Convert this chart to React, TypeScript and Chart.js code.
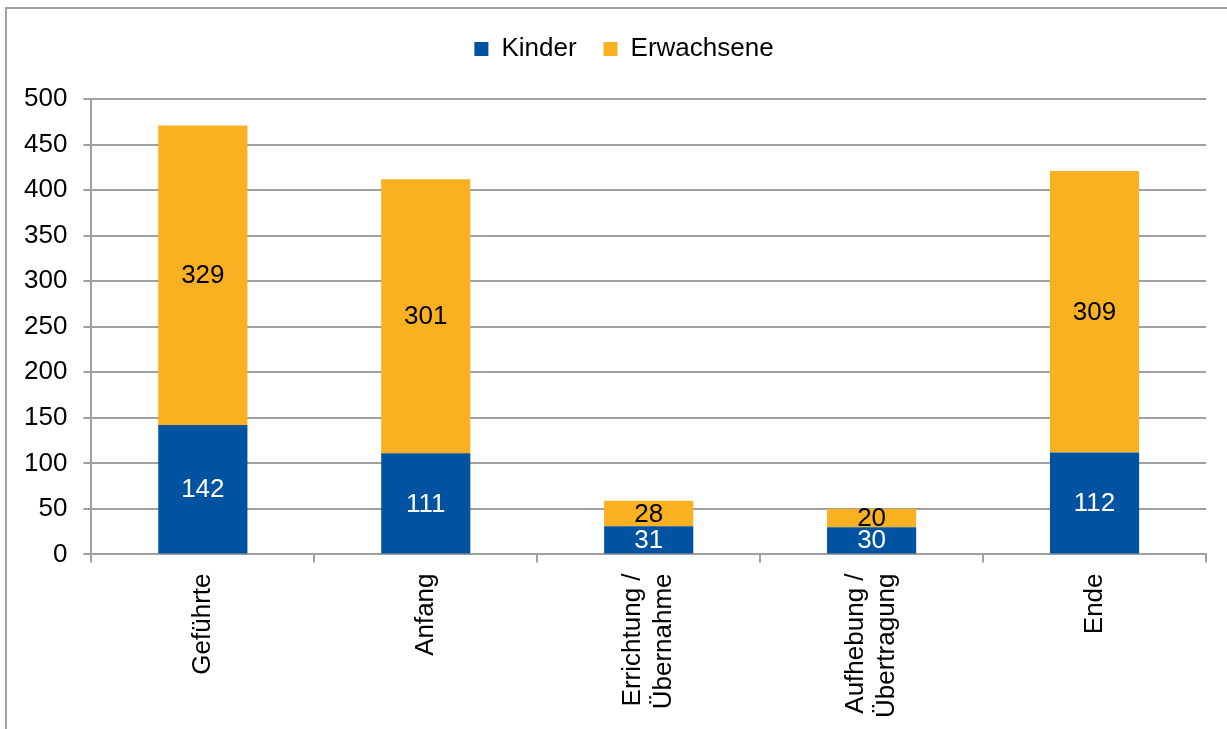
import React, { useEffect, useRef } from "react";
import { Chart, registerables } from "chart.js";

Chart.register(...registerables);

const categories: (string | string[])[] = [
  "Geführte",
  "Anfang",
  ["Errichtung /", "Übernahme"],
  ["Aufhebung /", "Übertragung"],
  "Ende",
];
const kinder = [142, 111, 31, 30, 112];
const erwachsene = [329, 301, 28, 20, 309];
const seriesNames = ["Kinder", "Erwachsene"];
const yMin = 0;
const yMax = 500;
const yStep = 50;

const BLUE = "#0053a0";
const ORANGE = "#f9b122";
const GRID = "#a0a0a0";
const FONT = "'Liberation Sans', Arial, sans-serif";
const FS = 26;

const valueLabels = {
  id: "valueLabels",
  afterDatasetsDraw(chart: any) {
    const ctx = chart.ctx;
    ctx.save();
    ctx.font = `${FS}px ${FONT}`;
    ctx.textAlign = "center";
    ctx.textBaseline = "middle";
    chart.data.datasets.forEach((ds: any, i: number) => {
      const meta = chart.getDatasetMeta(i);
      meta.data.forEach((bar: any, j: number) => {
        const { x, y, base } = bar.getProps(["x", "y", "base"], true);
        ctx.fillStyle = i === 0 ? "#ffffff" : "#000000";
        ctx.fillText(String(ds.data[j]), x, (y + base) / 2 + 1);
      });
    });
    ctx.restore();
  },
};

const legendSpacer = {
  id: "legendSpacer",
  beforeLayout(chart: any) {
    const lg = chart.legend;
    if (lg && !lg._spacerPatched) {
      const orig = lg.fit;
      lg.fit = function () {
        orig.call(this);
        this.height += 27;
      };
      lg._spacerPatched = true;
    }
  },
  afterLayout(chart: any) {
    const lg = chart.legend;
    if (lg) {
      lg.left += 17;
      lg.right += 17;
    }
  },
  beforeDraw(chart: any) {
    const s = chart.scales.x;
    if (!s) return;
    const items = s.getLabelItems(chart.chartArea);
    items.forEach((it: any) => {
      if (Array.isArray(it.label) && !it._centered) {
        const lh = it.font.lineHeight;
        it.options.translation[0] -= ((it.label.length - 1) * lh) / 2;
        it._centered = true;
      }
    });
  },
};

export default function App() {
  const ref = useRef<HTMLCanvasElement>(null);
  useEffect(() => {
    if (!ref.current) return;
    const chart = new Chart(ref.current, {
      type: "bar",
      data: {
        labels: categories as any,
        datasets: [
          { label: seriesNames[0], data: kinder, backgroundColor: BLUE, borderWidth: 0 },
          { label: seriesNames[1], data: erwachsene, backgroundColor: ORANGE, borderWidth: 0 },
        ],
      },
      options: {
        animation: false,
        responsive: false,
        maintainAspectRatio: false,
        layout: { padding: { top: 9, left: 8, right: 21, bottom: 0 } },
        datasets: { bar: { categoryPercentage: 0.4, barPercentage: 1 } } as any,
        plugins: {
          legend: {
            position: "top",
            labels: {
              boxWidth: 14,
              boxHeight: 14,
              padding: 27,
              color: "#000",
              font: { size: FS, family: FONT },
            },
          },
          tooltip: { enabled: false },
        },
        scales: {
          x: {
            stacked: true,
            offset: true,
            border: { display: true, color: GRID, width: 2 },
            grid: {
              display: true,
              offset: true,
              drawOnChartArea: false,
              drawTicks: true,
              tickLength: 8,
              color: GRID,
              lineWidth: 2,
            },
            ticks: {
              autoSkip: false,
              maxRotation: 90,
              minRotation: 90,
              padding: 11,
              color: "#000",
              font: { size: FS, family: FONT },
            },
          },
          y: {
            stacked: true,
            min: yMin,
            max: yMax,
            border: { display: true, color: GRID, width: 2 },
            grid: {
              color: GRID,
              lineWidth: 2,
              drawTicks: true,
              tickLength: 8,
            },
            ticks: {
              stepSize: yStep,
              padding: 16,
              color: "#000",
              font: { size: FS, family: FONT },
            },
          },
        },
      },
      plugins: [valueLabels, legendSpacer],
    });
    return () => chart.destroy();
  }, []);

  return (
    <div style={{ position: "absolute", left: 0, top: 0, width: 1227, height: 729, overflow: "hidden", background: "#fff" }}>
      <div
        style={{
          position: "absolute",
          left: 5,
          top: 7,
          width: 1240,
          height: 740,
          border: "2px solid #a0a0a0",
          boxSizing: "border-box",
        }}
      />
      <canvas ref={ref} width={1227} height={729} style={{ position: "absolute", left: 0, top: 0 }} />
    </div>
  );
}
